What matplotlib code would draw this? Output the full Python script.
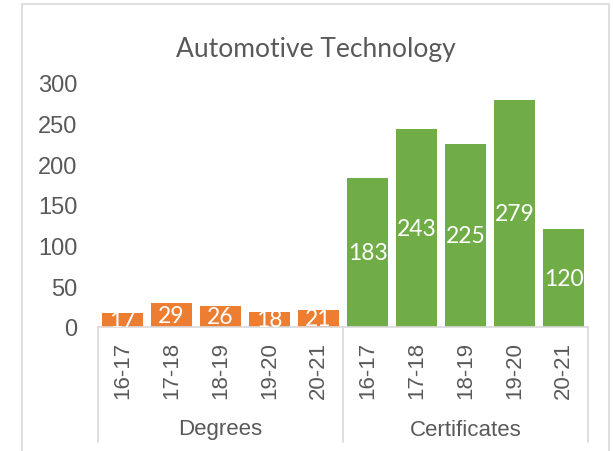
"""Automotive Technology: degrees and certificates awarded per year."""

import matplotlib.pyplot as plt
import matplotlib.transforms as mtransforms
from matplotlib.patches import Rectangle

years = ["16-17", "17-18", "18-19", "19-20", "20-21"]
degrees = [17, 29, 26, 18, 21]
certificates = [183, 243, 225, 279, 120]
groups = ["Degrees", "Certificates"]

ORANGE = "#ED7D31"
GREEN = "#70AD47"
TEXT = "#595959"
LINE = "#D9D9D9"

W, H = 613, 452
fig = plt.figure(figsize=(W / 100, H / 100), dpi=100)

# chart frame (bottom edge runs off the image, as in the reference)
fig.patches.append(
    Rectangle((22 / W, -0.05), (609 - 22) / W, 1 - 5 / H + 0.05,
              transform=fig.transFigure, fill=False, edgecolor=LINE, lw=1.2)
)

ax = fig.add_axes([98 / W, 1 - 328 / H, 490 / W, 244 / H])

values = degrees + certificates
colors = [ORANGE] * len(degrees) + [GREEN] * len(certificates)
xs = list(range(len(values)))
bars = ax.bar(xs, values, width=0.84, color=colors, zorder=2)

for b, v in zip(bars, values):
    t = ax.text(b.get_x() + b.get_width() / 2, v / 2, str(v),
                ha="center", va="center", color="white",
                fontsize=16.5, family="Lato", zorder=3)
    t.set_clip_on(True)

ax.set_xlim(-0.5, len(values) - 0.5)
ax.set_ylim(0, 300)
ax.set_yticks(range(0, 301, 50))
ax.set_xticks(xs)
ax.set_xticklabels(years + years, rotation=90, color=TEXT, fontsize=16,
                   family="Liberation Sans")
ax.tick_params(axis="x", length=0, pad=10)
ax.tick_params(axis="y", length=0, pad=15, labelcolor=TEXT, labelsize=17)
for lbl in ax.get_yticklabels():
    lbl.set_family("Liberation Sans")

for s in ["left", "right", "top"]:
    ax.spines[s].set_visible(False)
ax.spines["bottom"].set_color(LINE)
ax.spines["bottom"].set_linewidth(1.2)

# group separators and group labels under the axis
trans = mtransforms.blended_transform_factory(ax.transData, ax.transAxes)
for xb in [-0.5, 4.5, 9.5]:
    ax.plot([xb, xb], [0, -(443 - 328) / 244], color=LINE, lw=1.2,
            transform=trans, clip_on=False)
for i, g in enumerate(groups):
    ax.text(2 + 5 * i, -(430 - 328) / 244, g, transform=trans,
            ha="center", va="center", color=TEXT, fontsize=16,
            family="Liberation Sans")

fig.text(315.5 / W, 1 - 57.5 / H, "Automotive Technology", ha="center",
         va="baseline", color=TEXT, fontsize=19, family="Lato")

fig.savefig("out.png", dpi=100)
